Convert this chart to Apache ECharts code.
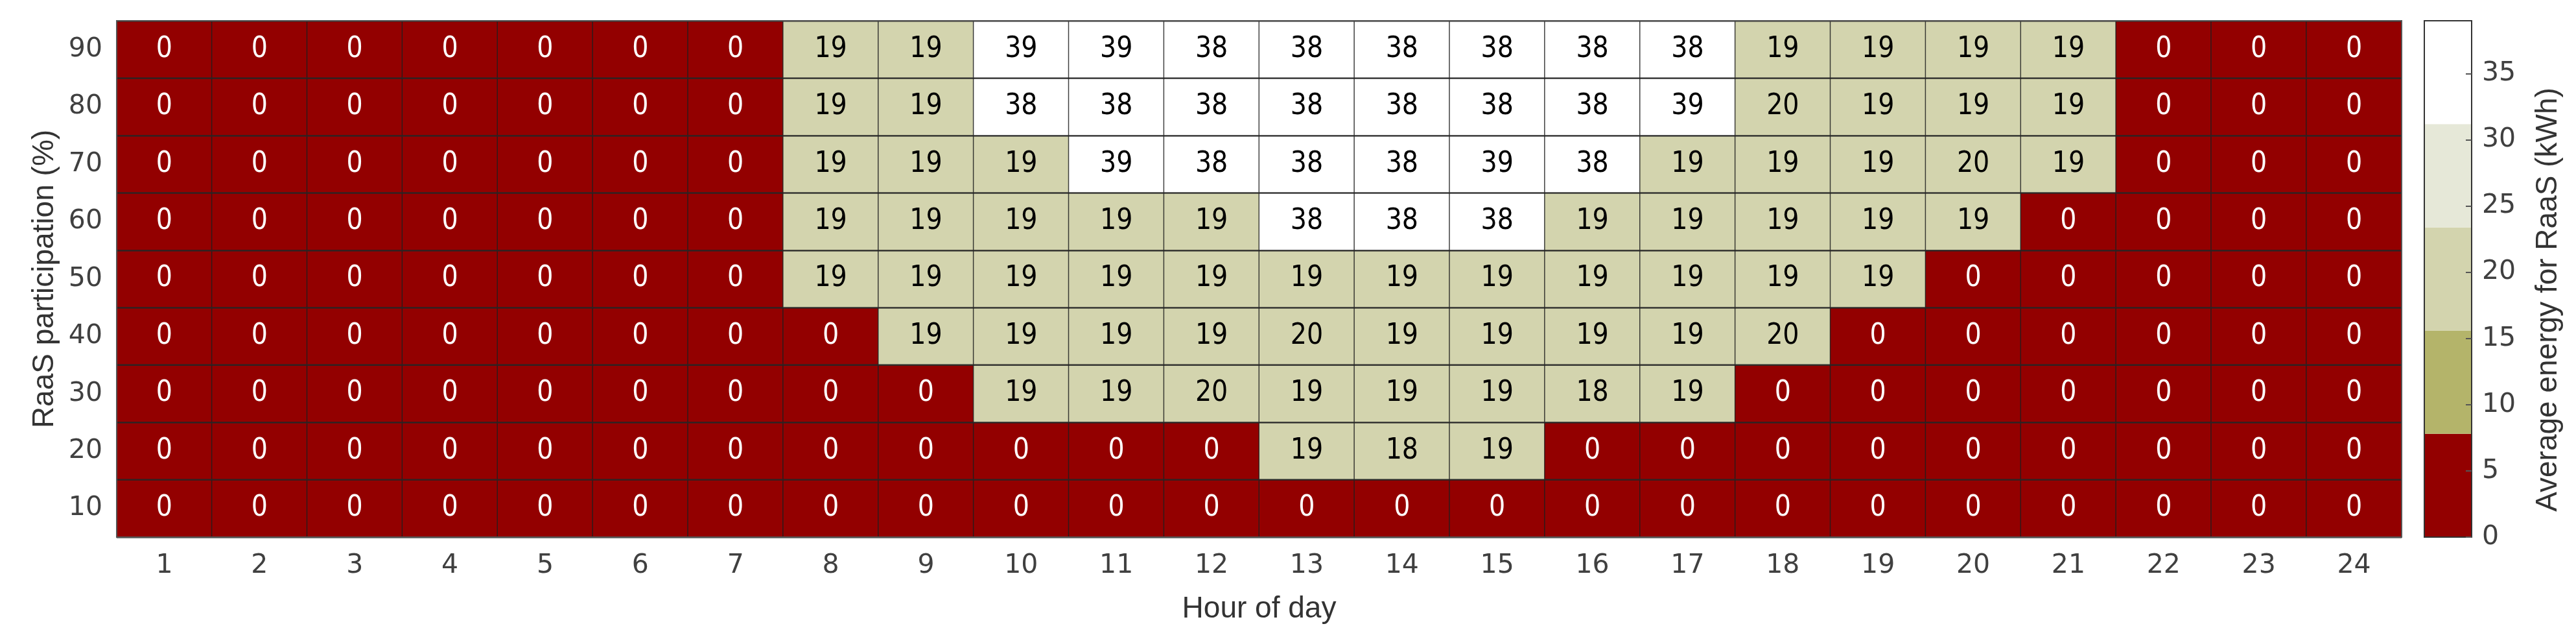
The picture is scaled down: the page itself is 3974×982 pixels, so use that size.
<!DOCTYPE html>
<html>
<head>
<meta charset="utf-8">
<script src="https://cdn.jsdelivr.net/npm/echarts@6/dist/echarts.min.js"></script>
<style>
html, body { margin: 0; padding: 0; background: #fff; }
#heat { width: 3974px; height: 982px; }
</style>
</head>
<body>
<div id="heat"></div>
<script>
// categories
var hours = ['1','2','3','4','5','6','7','8','9','10','11','12','13','14','15','16','17','18','19','20','21','22','23','24'];
var participation = ['10','20','30','40','50','60','70','80','90'];

// average energy for RaaS (kWh), one array per participation level, hour 1..24
var energy10 = [0,0,0,0,0,0,0,0,0,0,0,0,0,0,0,0,0,0,0,0,0,0,0,0];
var energy20 = [0,0,0,0,0,0,0,0,0,0,0,0,19,18,19,0,0,0,0,0,0,0,0,0];
var energy30 = [0,0,0,0,0,0,0,0,0,19,19,20,19,19,19,18,19,0,0,0,0,0,0,0];
var energy40 = [0,0,0,0,0,0,0,0,19,19,19,19,20,19,19,19,19,20,0,0,0,0,0,0];
var energy50 = [0,0,0,0,0,0,0,19,19,19,19,19,19,19,19,19,19,19,19,0,0,0,0,0];
var energy60 = [0,0,0,0,0,0,0,19,19,19,19,19,38,38,38,19,19,19,19,19,0,0,0,0];
var energy70 = [0,0,0,0,0,0,0,19,19,19,39,38,38,38,39,38,19,19,19,20,19,0,0,0];
var energy80 = [0,0,0,0,0,0,0,19,19,38,38,38,38,38,38,38,39,20,19,19,19,0,0,0];
var energy90 = [0,0,0,0,0,0,0,19,19,39,39,38,38,38,38,38,38,19,19,19,19,0,0,0];

// colour bar: bin edges, colours, ticks
var binEdges = [0, 7.8, 15.6, 23.4, 31.2, 39];
var binColors = ['#930000', '#b4b46a', '#d3d4ae', '#e6e8d8', '#ffffff'];
var cbarMax = 39;

var rows = [energy10, energy20, energy30, energy40, energy50, energy60, energy70, energy80, energy90];

var heatData = [];
rows.forEach(function (row, yi) {
    row.forEach(function (v, xi) {
        heatData.push({
            value: [xi, yi, v],
            label: { color: v < binEdges[1] ? '#ffffff' : '#000000' }
        });
    });
});

var pieces = [];
for (var i = 0; i < binColors.length; i++) {
    pieces.push({ gte: binEdges[i], lt: binEdges[i + 1], color: binColors[i] });
}
pieces[pieces.length - 1].lte = 100;
delete pieces[pieces.length - 1].lt;

// stacked bar segments for the colour bar
var cbarSeries = binColors.map(function (c, i) {
    return {
        type: 'bar',
        xAxisIndex: 1,
        yAxisIndex: 1,
        stack: 'cbar',
        barWidth: '100%',
        silent: true,
        data: [binEdges[i + 1] - binEdges[i]],
        itemStyle: { color: c }
    };
});

var tickFont = 'DejaVu Sans';
var titleFont = 'Liberation Sans, Arial, sans-serif';

var chart = echarts.init(document.getElementById('heat'));
var option = {
    animation: false,
    backgroundColor: '#ffffff',
    grid: [
        { left: 180, top: 32, width: 3525, height: 796, show: true, z: 10,
          borderColor: '#555', borderWidth: 2, backgroundColor: 'transparent' },
        { left: 3740, top: 32, width: 73, height: 796, show: true, z: 10,
          borderColor: '#333', borderWidth: 2, backgroundColor: 'transparent' }
    ],
    xAxis: [
        {
            type: 'category', gridIndex: 0, data: hours,
            axisLine: { show: false }, axisTick: { show: false },
            axisLabel: { margin: 24, fontSize: 41, fontFamily: tickFont, color: '#404040' },
            name: 'Hour of day', nameLocation: 'middle', nameGap: 88,
            nameTextStyle: { fontSize: 46, fontFamily: titleFont, color: '#333' }
        },
        {
            type: 'category', gridIndex: 1, data: [''],
            axisLine: { show: false }, axisTick: { show: false }, axisLabel: { show: false }
        }
    ],
    yAxis: [
        {
            type: 'category', gridIndex: 0, data: participation, z: 5,
            axisLine: { show: false }, axisTick: { show: false },
            splitLine: { show: true, lineStyle: { color: 'rgba(40,40,40,0.75)', width: 2.5 } },
            axisLabel: { margin: 22, fontSize: 41, fontFamily: tickFont, color: '#404040' },
            name: 'RaaS participation (%)', nameLocation: 'middle', nameGap: 88,
            nameTextStyle: { fontSize: 46, fontFamily: titleFont, color: '#333' }
        },
        {
            type: 'value', gridIndex: 1, position: 'right', min: 0, max: cbarMax, interval: 5, z: 10,
            axisLine: { show: false },
            axisTick: { show: true, inside: true, length: 9, lineStyle: { color: '#555', width: 2 } },
            splitLine: { show: false },
            axisLabel: { margin: 16, fontSize: 41, fontFamily: tickFont, color: '#404040', showMaxLabel: false },
            name: 'Average energy for RaaS (kWh)', nameLocation: 'middle', nameGap: 95,
            nameTextStyle: { fontSize: 46, fontFamily: titleFont, color: '#333', padding: [0, 64, 0, 0] }
        }
    ],
    visualMap: {
        type: 'piecewise', show: false, seriesIndex: 0, dimension: 2,
        pieces: pieces
    },
    series: [
        {
            type: 'heatmap',
            xAxisIndex: 0,
            yAxisIndex: 0,
            data: heatData,
            itemStyle: { borderColor: 'rgba(30,30,30,0.8)', borderWidth: 1.5 },
            label: {
                show: true,
                fontSize: 44,
                fontFamily: 'Liberation Sans Narrow, Arial Narrow, DejaVu Sans Condensed, sans-serif'
            },
            emphasis: { disabled: true }
        }
    ].concat(cbarSeries)
};
chart.setOption(option);
</script>
</body>
</html>
